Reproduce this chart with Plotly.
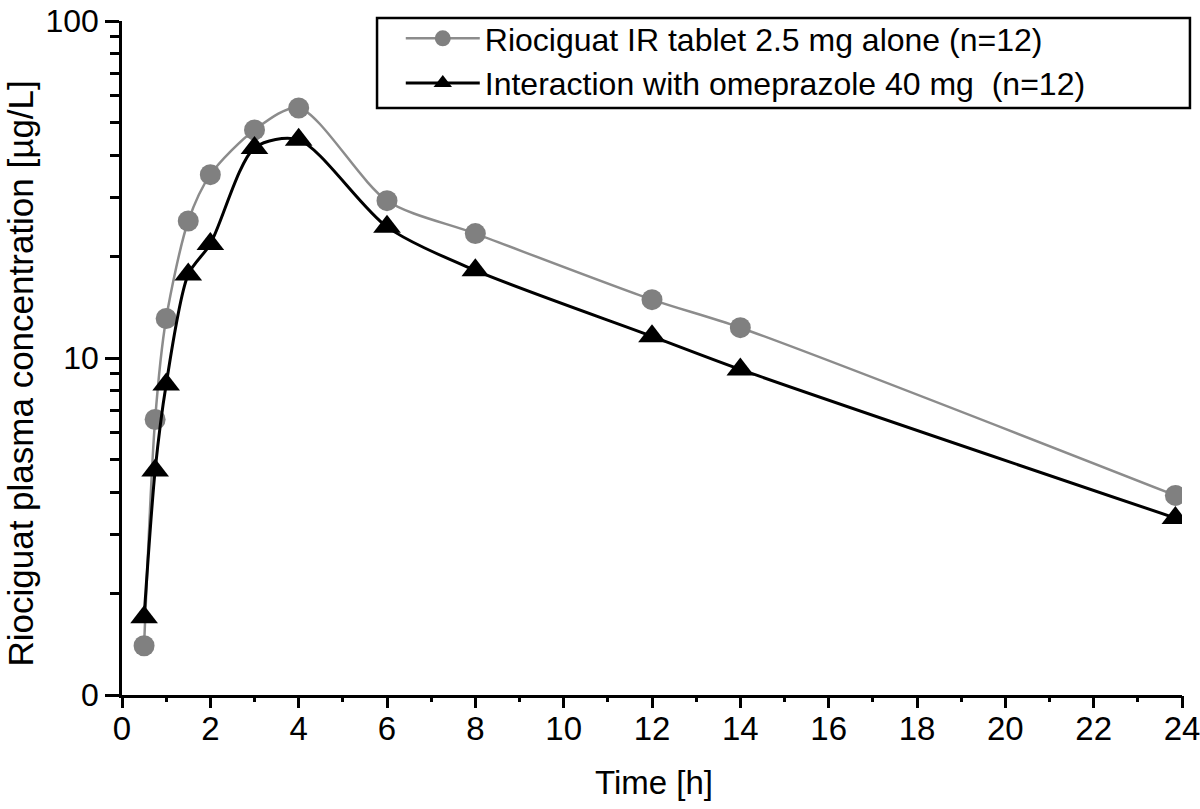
import plotly.graph_objects as go

time_h = [0.5, 0.75, 1, 1.5, 2, 3, 4, 6, 8, 12, 14, 23.85]
alone = [1.40, 6.57, 13.1, 25.5, 35.0, 47.5, 55.2, 29.3, 23.4, 14.9, 12.3, 3.91]
with_omeprazole = [1.70, 4.64, 8.35, 17.7, 21.8, 42.0, 44.4, 24.5, 18.2, 11.6, 9.25, 3.35]

series_names = ["Riociguat IR tablet 2.5 mg alone (n=12)",
                "Interaction with omeprazole 40 mg  (n=12)"]

y_tickvals = [1, 10, 100]
y_ticktext = ["0", "10", "100"]
y_minor = [2, 3, 4, 5, 6, 7, 8, 9, 20, 30, 40, 50, 60, 70, 80, 90]
x_tickvals = list(range(0, 25, 2))

FONT = "Liberation Sans, Arial, sans-serif"

fig = go.Figure()
fig.add_trace(go.Scatter(
    x=time_h, y=alone, name=series_names[0], mode="lines+markers",
    line=dict(color="#8c8c8c", width=2.5, shape="spline", smoothing=0.8),
    marker=dict(symbol="circle", size=21, color="#808080"),
))
fig.add_trace(go.Scatter(
    x=time_h, y=with_omeprazole, name=series_names[1], mode="lines+markers",
    line=dict(color="black", width=3, shape="spline", smoothing=0.8),
    marker=dict(symbol="triangle-up", size=24, color="black"),
))
# empty trace so the tick-mark axis (x2) is drawn
fig.add_trace(go.Scatter(x=[], y=[], xaxis="x2", showlegend=False, hoverinfo="skip"))

# legend frame
fig.add_shape(type="rect", xref="paper", yref="paper",
              x0=0.2406, x1=1.0075, y0=0.8711, y1=1.0044,
              line=dict(color="black", width=2.5), fillcolor="rgba(0,0,0,0)", layer="above")

# axis titles
fig.add_annotation(text="Riociguat plasma concentration [µg/L]", textangle=-90,
                   xref="paper", yref="paper", x=-0.0962, y=0.477,
                   xanchor="center", yanchor="middle", showarrow=False,
                   font=dict(family=FONT, size=35, color="black"))
fig.add_annotation(text="Time [h]",
                   xref="paper", yref="paper", x=0.502, y=-0.1304,
                   xanchor="center", yanchor="middle", showarrow=False,
                   font=dict(family=FONT, size=33, color="black"))

fig.update_layout(
    width=1200, height=809,
    margin=dict(l=122, r=18, t=20, b=114),
    plot_bgcolor="white", paper_bgcolor="white",
    font=dict(family=FONT, size=32, color="black"),
    showlegend=True,
    legend=dict(
        x=0.263, xanchor="left", y=1.0133, yanchor="top",
        xref="paper", yref="paper",
        borderwidth=0, bgcolor="rgba(0,0,0,0)",
        font=dict(family=FONT, size=32, color="black"),
        itemwidth=74, tracegroupgap=0,
    ),
    xaxis=dict(
        range=[0, 24], tickmode="array", tickvals=x_tickvals,
        showline=True, linecolor="black", linewidth=2.5,
        ticks="", showgrid=False, zeroline=False, automargin=False,
        tickfont=dict(size=33), ticklabelstandoff=3, ticklabeloverflow="allow",
    ),
    xaxis2=dict(
        range=[0, 24], overlaying="x", anchor="y", side="bottom",
        tickmode="array", tickvals=x_tickvals, showticklabels=False,
        showline=False, ticks="outside", ticklen=12, tickwidth=2.5, tickcolor="black",
        showgrid=False, zeroline=False, automargin=False,
        minor=dict(dtick=1, tick0=0, ticks="outside", ticklen=6, tickwidth=2.5, tickcolor="black", showgrid=False),
    ),
    yaxis=dict(
        type="log", range=[0, 2], tickmode="array",
        tickvals=y_tickvals, ticktext=y_ticktext,
        showline=True, linecolor="black", linewidth=2.5,
        ticks="outside", ticklen=14, tickwidth=2.5, tickcolor="black",
        showgrid=False, zeroline=False, automargin=False,
        tickfont=dict(size=32), ticklabeloverflow="allow",
        minor=dict(tickmode="array", tickvals=y_minor, ticks="outside", ticklen=9, tickwidth=2.5, tickcolor="black", showgrid=False),
    ),
)

fig.write_html("out.html", config={"displayModeBar": False},
               post_script="document.body.style.margin='0';")
